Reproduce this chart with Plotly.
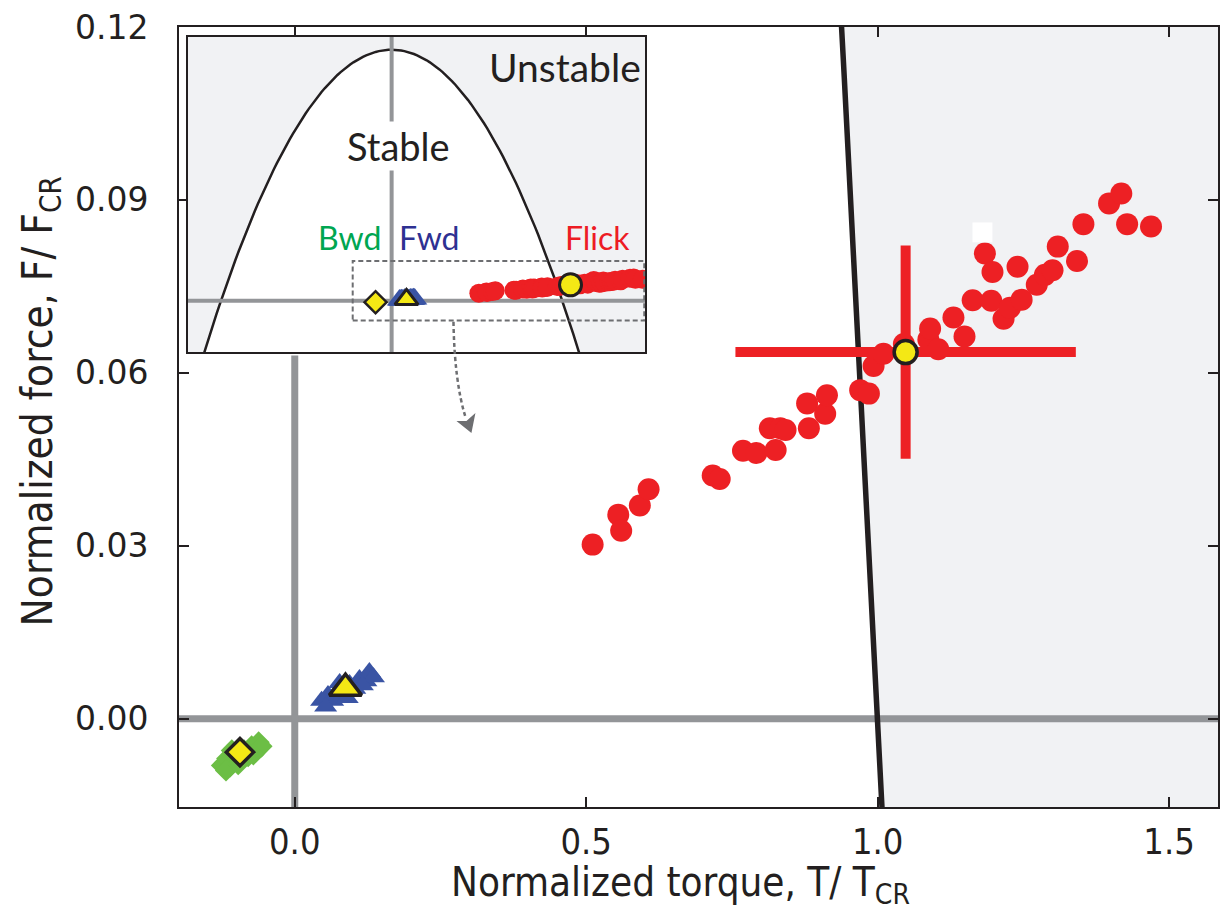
import numpy as np
import plotly.graph_objects as go

# ---- measured trials (normalized torque T/Tcr, normalized force F/Fcr) ----
flick_torque = [0.511, 0.555, 0.560, 0.592, 0.607, 0.717, 0.729, 0.769, 0.792, 0.815,
                0.825, 0.833, 0.842, 0.879, 0.882, 0.910, 0.913, 0.970, 0.985, 0.993,
                1.010, 1.045, 1.087, 1.090, 1.104, 1.130, 1.149, 1.163, 1.184, 1.195,
                1.197, 1.216, 1.227, 1.240, 1.247, 1.273, 1.287, 1.300, 1.309, 1.342,
                1.353, 1.397, 1.418, 1.428, 1.469]
flick_force = [0.0302, 0.0354, 0.0326, 0.0370, 0.0398, 0.0422, 0.0416, 0.0465, 0.0461, 0.0504,
               0.0466, 0.0504, 0.0501, 0.0547, 0.0504, 0.0529, 0.0561, 0.0570, 0.0564, 0.0612,
               0.0633, 0.0650, 0.0658, 0.0677, 0.0641, 0.0696, 0.0663, 0.0726, 0.0807, 0.0725,
               0.0775, 0.0694, 0.0713, 0.0784, 0.0727, 0.0753, 0.0770, 0.0778, 0.0819, 0.0794,
               0.0858, 0.0894, 0.0911, 0.0858, 0.0854]

fwd_torque = [0.046, 0.057, 0.065, 0.074, 0.084, 0.094, 0.103, 0.111, 0.122, 0.128, 0.135,
              0.077, 0.053, 0.090, 0.116]
fwd_force = [0.0031, 0.0041, 0.0031, 0.0048, 0.0041, 0.0060, 0.0052, 0.0069, 0.0065, 0.0081, 0.0072,
             0.0062, 0.0021, 0.0036, 0.0058]

bwd_torque = [-0.125, -0.116, -0.111, -0.101, -0.094, -0.087, -0.080, -0.074, -0.067, -0.062,
              -0.057, -0.108, -0.118, -0.097, -0.071]
bwd_force = [-0.0081, -0.0069, -0.0083, -0.0064, -0.0072, -0.0055, -0.0065, -0.0048, -0.0057, -0.0041,
             -0.0048, -0.0055, -0.0090, -0.0079, -0.0062]

# group means and spread
flick_mean = (1.048, 0.0636)
flick_sd = (0.292, 0.0185)
fwd_mean = (0.087, 0.0053)
bwd_mean = (-0.094, -0.0058)

# axis ticks
x_ticks = [0.0, 0.5, 1.0, 1.5]
x_ticktext = ["0.0", "0.5", "1.0", "1.5"]
y_ticks = [0.00, 0.03, 0.06, 0.09, 0.12]
y_ticktext = ["0.00", "0.03", "0.06", "0.09", "0.12"]

# ---- styling ----
RED = "#ED2024"
GREEN = "#6CBE45"
BLUE = "#3A54A4"
YELLOW = "#F4E815"
GRAYLINE = "#939598"
SHADE = "#F1F2F4"
INK = "#231F20"

X_RANGE = [-0.1986, 1.5839]
Y_RANGE = [-0.01532, 0.12]
X2_RANGE = [-1.193, 1.485]
Y2_RANGE = [-0.206, 1.051]

W, H = 1228, 924
PL, PT, PR, PB = 179, 21, 1220, 807
PW, PH = PR - PL, PB - PT


def paper(xp, yp):
    """Pixel position on the page -> paper coordinates of the plot area."""
    return (xp - PL) / PW, 1 - (yp - PT) / PH


inset_x0, inset_y1 = paper(188, 31)
inset_x1, inset_y0 = paper(646, 349)


# stability boundary F = 1 - T^2
def boundary_T(F):
    return np.sqrt(1 - F)


fig = go.Figure()

# ---------------- main panel ----------------
F_line = np.linspace(-0.03, 0.14, 60)
T_line = boundary_T(F_line)
fig.add_trace(go.Scatter(
    x=list(T_line) + [2.0, 2.0], y=list(F_line) + [0.14, -0.03],
    fill="toself", fillcolor=SHADE, mode="none", hoverinfo="skip",
    xaxis="x", yaxis="y"))

# zero lines
inset_bottom_F = Y_RANGE[0] + (inset_y0 - 0.004) * (Y_RANGE[1] - Y_RANGE[0])
fig.add_trace(go.Scatter(x=[-0.3, 1.7], y=[0, 0], mode="lines",
                         line=dict(color=GRAYLINE, width=7), hoverinfo="skip"))
fig.add_trace(go.Scatter(x=[0, 0], y=[-0.03, inset_bottom_F], mode="lines",
                         line=dict(color=GRAYLINE, width=7), hoverinfo="skip"))

fig.add_trace(go.Scatter(x=T_line, y=F_line, mode="lines",
                         line=dict(color=INK, width=5.5), hoverinfo="skip"))

fig.add_trace(go.Scatter(x=bwd_torque, y=bwd_force, mode="markers",
                         marker=dict(symbol="diamond", size=17, color=GREEN, line=dict(width=0))))
fig.add_trace(go.Scatter(x=fwd_torque, y=fwd_force, mode="markers",
                         marker=dict(symbol="triangle-up", size=20, color=BLUE, line=dict(width=0))))
fig.add_trace(go.Scatter(x=flick_torque, y=flick_force, mode="markers",
                         marker=dict(symbol="circle", size=22, color=RED, line=dict(width=0))))

fig.add_trace(go.Scatter(
    x=[flick_mean[0]], y=[flick_mean[1]], mode="markers",
    error_x=dict(type="constant", value=flick_sd[0], color=RED, thickness=10, width=0),
    error_y=dict(type="constant", value=flick_sd[1], color=RED, thickness=10, width=0),
    marker=dict(symbol="circle", size=23, color=YELLOW, line=dict(color=INK, width=3.5))))
fig.add_trace(go.Scatter(x=[fwd_mean[0]], y=[fwd_mean[1]], mode="markers",
                         marker=dict(symbol="triangle-up", size=28, color=YELLOW,
                                     line=dict(color=INK, width=3.5))))
fig.add_trace(go.Scatter(x=[bwd_mean[0]], y=[bwd_mean[1]], mode="markers",
                         marker=dict(symbol="diamond", size=21, color=YELLOW,
                                     line=dict(color=INK, width=3.5))))

# ---------------- inset: full boundary ----------------
fig.add_trace(go.Scatter(
    x=[-2, 2, 2, -2], y=[-1, -1, 2, 2], fill="toself", fillcolor=SHADE,
    mode="none", hoverinfo="skip", xaxis="x2", yaxis="y2"))
T_par = np.linspace(-1.12, 1.12, 121)
F_par = 1 - T_par ** 2
fig.add_trace(go.Scatter(x=T_par, y=F_par, fill="toself", fillcolor="white",
                         mode="lines", line=dict(color=INK, width=2.5),
                         hoverinfo="skip", xaxis="x2", yaxis="y2"))
fig.add_trace(go.Scatter(x=[-2, 2], y=[0, 0], mode="lines",
                         line=dict(color=GRAYLINE, width=4), xaxis="x2", yaxis="y2"))
fig.add_trace(go.Scatter(x=[0, 0], y=[-1, 2], mode="lines",
                         line=dict(color=GRAYLINE, width=4), xaxis="x2", yaxis="y2"))

fig.add_trace(go.Scatter(x=bwd_torque, y=bwd_force, mode="markers", xaxis="x2", yaxis="y2",
                         marker=dict(symbol="diamond", size=8, color=GREEN, line=dict(width=0))))
fig.add_trace(go.Scatter(x=fwd_torque, y=fwd_force, mode="markers", xaxis="x2", yaxis="y2",
                         marker=dict(symbol="triangle-up", size=22, color=BLUE, line=dict(width=0))))
fig.add_trace(go.Scatter(x=flick_torque, y=flick_force, mode="markers", xaxis="x2", yaxis="y2",
                         marker=dict(symbol="circle", size=19, color=RED, line=dict(width=0))))
fig.add_trace(go.Scatter(x=[flick_mean[0]], y=[flick_mean[1]], mode="markers", xaxis="x2", yaxis="y2",
                         marker=dict(symbol="circle", size=22, color=YELLOW,
                                     line=dict(color=INK, width=3))))
fig.add_trace(go.Scatter(x=[fwd_mean[0]], y=[fwd_mean[1]], mode="markers", xaxis="x2", yaxis="y2",
                         marker=dict(symbol="triangle-up", size=20, color=YELLOW,
                                     line=dict(color=INK, width=3))))
fig.add_trace(go.Scatter(x=[bwd_mean[0]], y=[bwd_mean[1]], mode="markers", xaxis="x2", yaxis="y2",
                         marker=dict(symbol="diamond", size=17, color=YELLOW,
                                     line=dict(color=INK, width=2.5))))

# ---------------- shapes ----------------
shapes = []
# zoom box inside the inset
shapes.append(dict(type="rect", xref="x2", yref="y2", x0=-0.228, x1=1.48, y0=-0.079, y1=0.158,
                   line=dict(color="#6D6E71", width=2, dash="5px,3px"), layer="above"))
# dotted pointer from the zoom box down to the main panel
a0 = paper(454, 318)
a1 = paper(455, 378)
a2 = paper(466, 414)
shapes.append(dict(type="path", xref="paper", yref="paper",
                   path=f"M{a0[0]},{a0[1]} Q{a1[0]},{a1[1]} {a2[0]},{a2[1]}",
                   line=dict(color="#6D6E71", width=2.5, dash="4px,3px")))
tip = paper(472, 430)
lw = paper(457, 418)
nt = paper(467, 418)
rw = paper(476, 410)
shapes.append(dict(type="path", xref="paper", yref="paper",
                   path=f"M{tip[0]},{tip[1]} L{lw[0]},{lw[1]} L{nt[0]},{nt[1]} L{rw[0]},{rw[1]} Z",
                   fillcolor="#6D6E71", line=dict(width=0)))
# small white patch in the unstable region
shapes.append(dict(type="rect", xref="x", yref="y", x0=1.1627, x1=1.1969, y0=0.08264, y1=0.08609,
                   fillcolor="white", line=dict(width=0), layer="above"))

# ---------------- text ----------------
LABEL_FONT = "Lato, 'Open Sans', sans-serif"
NARROW_FONT = "'Liberation Sans Narrow', 'DejaVu Sans Condensed', Roboto, sans-serif"
annotations = []


def label(text, xp, yp, size, color=INK, **kw):
    px, py = paper(xp, yp)
    annotations.append(dict(text=text, x=px, y=py, xref="paper", yref="paper",
                            showarrow=False, xanchor="center", yanchor="middle",
                            font=dict(family=LABEL_FONT, size=size, color=color), **kw))


label("Unstable", 566, 61, 39)
label("Stable", 399, 141, 38, bgcolor="white")
label("Bwd", 350, 233, 32, color="#00A651")
label("Fwd", 429, 233, 32, color="#2E3192")
label("Flick", 598, 233, 32, color="#ED1C24")

tx, ty = paper(681, 886)
annotations.append(dict(text="Normalized torque, T/ T<sub>CR</sub>", x=tx, y=ty,
                        xref="paper", yref="paper", showarrow=False,
                        xanchor="center", yanchor="middle",
                        font=dict(family=NARROW_FONT, size=40, color=INK)))
tx, ty = paper(40, 398)
annotations.append(dict(text="Normalized force, F/ F<sub>CR</sub>", x=tx, y=ty,
                        xref="paper", yref="paper", showarrow=False, textangle=-90,
                        xanchor="center", yanchor="middle",
                        font=dict(family=NARROW_FONT, size=42, color=INK)))

axis_common = dict(showgrid=False, zeroline=False, showline=True, linecolor=INK,
                   linewidth=2, mirror="ticks", ticks="inside", ticklen=10,
                   tickwidth=1.5, tickcolor=INK)

fig.update_layout(
    width=W, height=H,
    margin=dict(l=PL, r=W - PR, t=PT, b=H - PB, pad=0),
    paper_bgcolor="white", plot_bgcolor="white",
    showlegend=False,
    xaxis=dict(domain=[0, 1], range=X_RANGE, tickvals=x_ticks, ticktext=x_ticktext,
               tickfont=dict(family=NARROW_FONT, size=36, color=INK),
               ticklabelstandoff=2, **axis_common),
    yaxis=dict(domain=[0, 1], range=Y_RANGE, tickvals=y_ticks, ticktext=y_ticktext,
               tickfont=dict(family="'DejaVu Sans', sans-serif", size=33, color=INK),
               ticklabelstandoff=22, **axis_common),
    xaxis2=dict(domain=[inset_x0, inset_x1], range=X2_RANGE, anchor="y2",
                showgrid=False, zeroline=False, showticklabels=False, ticks="",
                showline=True, mirror=True, linecolor=INK, linewidth=1.5),
    yaxis2=dict(domain=[inset_y0, inset_y1], range=Y2_RANGE, anchor="x2",
                showgrid=False, zeroline=False, showticklabels=False, ticks="",
                showline=True, mirror=True, linecolor=INK, linewidth=1.5),
    shapes=shapes,
    annotations=annotations,
)

fig.write_html("out.html")
